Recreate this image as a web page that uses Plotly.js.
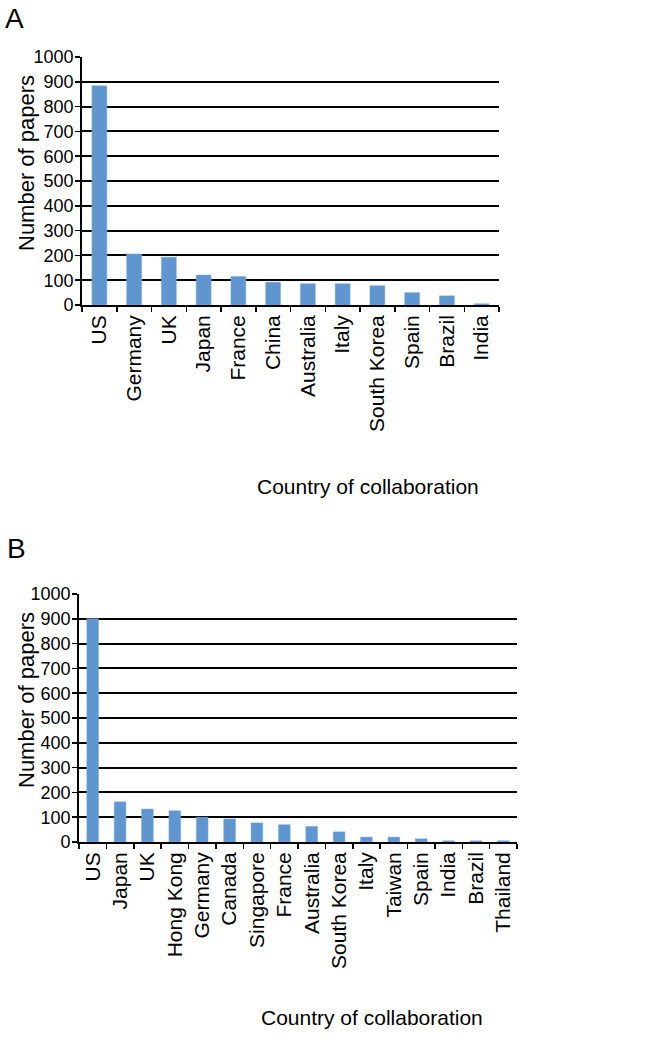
<!DOCTYPE html>
<html>
<head>
<meta charset="utf-8">
<script src="https://cdn.plot.ly/plotly-3.0.1.min.js"></script>
<style>
html,body{margin:0;padding:0;background:#fff;}
#chart{width:672px;height:1038px;}
</style>
</head>
<body>
<div id="chart"></div>
<script>
const countriesA = ["US","Germany","UK","Japan","France","China","Australia","Italy","South Korea","Spain","Brazil","India"];
const papersA = [884,206,193,121,115,92,86,86,78,50,37,5];

const countriesB = ["US","Japan","UK","Hong Kong","Germany","Canada","Singapore","France","Australia","South Korea","Italy","Taiwan","Spain","India","Brazil","Thailand"];
const papersB = [900,162,133,126,100,93,77,70,63,41,20,20,13,5,5,5];

const yTicks = [0,100,200,300,400,500,600,700,800,900,1000];

const W = 672, H = 1038;
const FONT = "Liberation Sans, Arial, Helvetica, sans-serif";
const barColor = "#5f96cf";

function px(x){return x/W;}
function py(y){return 1 - y/H;}

const traceA = {
  type: "bar", x: countriesA, y: papersA, xaxis: "x", yaxis: "y",
  marker: {color: barColor, line: {color: "#7fb0e0", width: 0.5}},
  hoverinfo: "x+y"
};
const traceB = {
  type: "bar", x: countriesB, y: papersB, xaxis: "x2", yaxis: "y2",
  marker: {color: barColor, line: {color: "#7fb0e0", width: 0.5}},
  hoverinfo: "x+y"
};

function xAxis(domain, anchor){
  return {
    domain: domain, anchor: anchor, type: "category",
    tickangle: -90, tickson: "boundaries", ticks: "outside", ticklen: 5, tickwidth: 1.5, tickcolor: "#000",
    showline: true, linecolor: "#000", linewidth: 1.8, showgrid: false,
    tickfont: {family: FONT, size: 21, color: "#000"}, fixedrange: true
  };
}
function yAxis(domain, anchor){
  return {
    domain: domain, anchor: anchor, range: [0,1000], tickvals: yTicks, ticktext: yTicks.map(String),
    ticks: "outside", ticklen: 5, tickwidth: 1.5, tickcolor: "#000",
    showline: true, linecolor: "#000", linewidth: 1.8,
    showgrid: true, gridcolor: "#000", gridwidth: 2,
    zeroline: false, ticklabelstandoff: -2,
    tickfont: {family: FONT, size: 18, color: "#000"}, fixedrange: true
  };
}

function ann(text, x, y, size, angle){
  return {text: text, x: px(x), y: py(y), xref: "paper", yref: "paper",
    xanchor: "center", yanchor: "middle", textangle: angle || 0, showarrow: false,
    font: {family: FONT, size: size, color: "#000"}};
}

const layout = {
  width: W, height: H,
  margin: {l:0, r:0, t:0, b:0},
  paper_bgcolor: "#fff", plot_bgcolor: "#fff",
  showlegend: false,
  bargap: 0.57,
  font: {family: FONT, color: "#000"},
  xaxis: xAxis([px(82), px(499)], "y"),
  yaxis: yAxis([py(305), py(57)], "x"),
  xaxis2: xAxis([px(79), px(517)], "y2"),
  yaxis2: yAxis([py(842), py(594)], "x2"),
  annotations: [
    ann("A", 14, 18, 28),
    ann("B", 16, 548, 28),
    ann("Number of papers", 26, 163, 22, -90),
    ann("Number of papers", 26, 700, 22, -90),
    ann("Country of collaboration", 368, 486, 21),
    ann("Country of collaboration", 372, 1017, 21)
  ]
};

Plotly.newPlot("chart", [traceA, traceB], layout, {displayModeBar: false, staticPlot: true});
</script>
</body>
</html>
